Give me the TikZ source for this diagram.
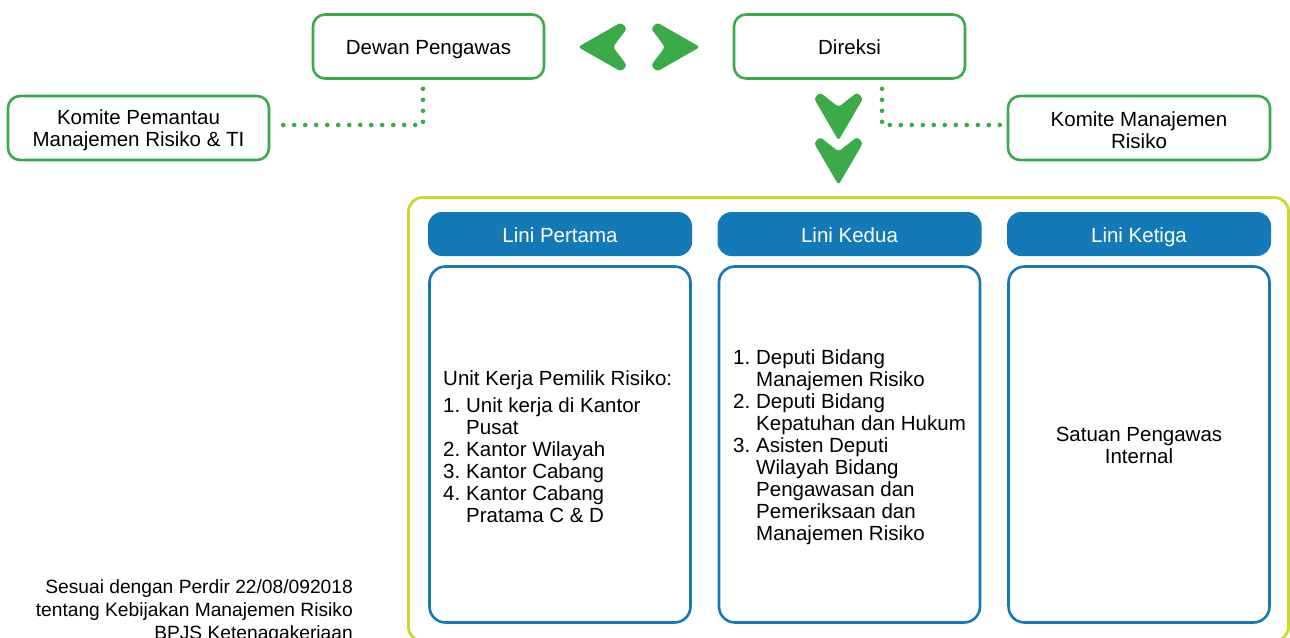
\documentclass[tikz,border=0pt]{standalone}
\usepackage{fontspec}
\setmainfont{Liberation Sans}
\definecolor{boardgreen}{RGB}{59,170,73}
\definecolor{lineblue}{RGB}{20,121,183}
\definecolor{framelime}{RGB}{205,214,47}
\newcommand{\itemno}[1]{\makebox[23pt][l]{#1}}

\begin{document}
\begin{tikzpicture}[x=1pt,y=-1pt,
  font=\fontsize{20.5}{22}\selectfont,
  greenbox/.style={draw=boardgreen, line width=2.6pt, rounded corners=12pt,
    fill=white, align=center, minimum width=#1, minimum height=64pt, inner sep=0pt},
  oneline/.style={text height=19pt, text depth=3pt},
  tabbox/.style={fill=lineblue, text=white, rounded corners=14pt,
    minimum width=264pt, minimum height=44pt, inner sep=0pt,
    text height=19pt, text depth=3pt},
  linebox/.style={draw=lineblue, line width=2.6pt, rounded corners=16pt,
    minimum width=261pt, minimum height=356pt, inner sep=0pt},
  dotline/.style={draw=boardgreen, line width=4.6pt, line cap=round,
    dash pattern=on 0pt off 11pt},
  chevron/.style={fill=boardgreen, rounded corners=3pt}
]
\useasboundingbox (0,0) rectangle (1290,637);
\clip (0,0) rectangle (1290,637);

% board level
\node[greenbox=231pt, oneline] (dewan) at (428.5,46.5) {Dewan Pengawas};
\node[greenbox=231pt, oneline] (direksi) at (849.5,46.5) {Direksi};
\node[greenbox=261pt, font=\fontsize{20.5}{22.5}\selectfont] (pemantau) at (138.5,128)
  {\rule{0pt}{19pt}Komite Pemantau\\Manajemen Risiko \& TI};
\node[greenbox=262pt, font=\fontsize{20.5}{22.5}\selectfont] (mrisk) at (1139,128)
  {\rule{0pt}{19pt}Komite Manajemen\\Risiko};

% committees attached by dotted lines
\draw[dotline] ([xshift=-5.5pt,yshift=-9pt]dewan.south) |- ([xshift=5pt,yshift=3pt]pemantau.east);
\draw[dotline] ([xshift=32.5pt,yshift=-9pt]direksi.south) |- ([xshift=-5pt,yshift=3pt]mrisk.west);

% two-way chevrons between the boards
\fill[chevron] (578,47) -- (621,22.5) -- (627,28.5) -- (613,47) -- (627,65.5) -- (621,71.5) -- cycle;
\fill[chevron] (700,47) -- (657,22.5) -- (651,28.5) -- (665,47) -- (651,65.5) -- (657,71.5) -- cycle;

% downward chevrons from Direksi
\foreach \dy in {0,44.5}{
  \fill[chevron, shift={(0,\dy)}] (838.5,140.5) -- (814,98.5) -- (820,92.5) -- (838.5,107)
    -- (857,92.5) -- (863,98.5) -- cycle;
}

% outer frame of the three lines of defence
\draw[draw=framelime, line width=2.8pt, rounded corners=14pt]
  (408.5,197.5) rectangle (1288.5,641);

% headers
\node[tabbox] (t1) at (560,234) {Lini Pertama};
\node[tabbox] (t2) at (849.5,234) {Lini Kedua};
\node[tabbox] (t3) at (1139,234) {Lini Ketiga};

% content boxes
\node[linebox] (b1) at (560,444.5) {};
\node[linebox] (b2) at (849.5,444.5) {};
\node[linebox] (b3) at (1139,444.5) {};

\node[anchor=base west, inner sep=0pt] (l1) at (443,385.5) {%
  \begin{tabular}[t]{@{}l@{}l@{}}
  \multicolumn{2}{@{}l@{}}{Unit Kerja Pemilik Risiko:}\\[5pt]
  \itemno{1.} & Unit kerja di Kantor\\
   & Pusat\\
  \itemno{2.} & Kantor Wilayah\\
  \itemno{3.} & Kantor Cabang\\
  \itemno{4.} & Kantor Cabang\\
   & Pratama C \& D
  \end{tabular}};

\node[anchor=base west, inner sep=0pt] (l2) at (733,364.5) {%
  \begin{tabular}[t]{@{}l@{}l@{}}
  \itemno{1.} & Deputi Bidang\\
   & Manajemen Risiko\\
  \itemno{2.} & Deputi Bidang\\
   & Kepatuhan dan Hukum\\
  \itemno{3.} & Asisten Deputi\\
   & Wilayah Bidang\\
   & Pengawasan dan\\
   & Pemeriksaan dan\\
   & Manajemen Risiko
  \end{tabular}};

\node[align=center, inner sep=0pt] (l3) at (1139,445) {Satuan Pengawas\\Internal};

% reference note
\node[anchor=base east, inner sep=0pt, font=\fontsize{19.2}{23}\selectfont] (note) at (353,593) {%
  \begin{tabular}[t]{@{}r@{}}
  Sesuai dengan Perdir 22/08/092018\\
  tentang Kebijakan Manajemen Risiko\\
  BPJS Ketenagakerjaan
  \end{tabular}};
\end{tikzpicture}
\end{document}
